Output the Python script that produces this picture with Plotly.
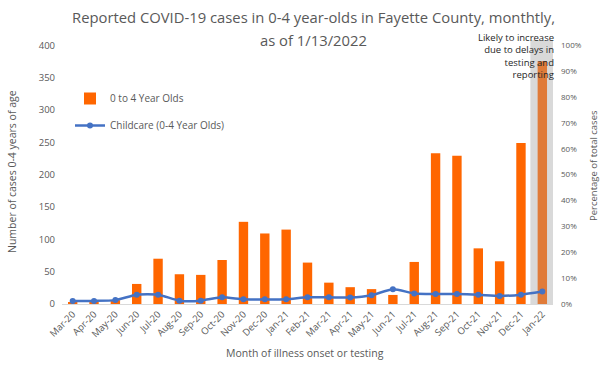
import plotly.graph_objects as go

months = ["Mar-20", "Apr-20", "May-20", "Jun-20", "Jul-20", "Aug-20", "Sep-20", "Oct-20",
          "Nov-20", "Dec-20", "Jan-21", "Feb-21", "Mar-21", "Apr-21", "May-21", "Jun-21",
          "Jul-21", "Aug-21", "Sep-21", "Oct-21", "Nov-21", "Dec-21", "Jan-22"]
cases_0_4 = [2, 2, 6, 31, 70, 46, 45, 68, 127, 109, 115, 64, 33, 26, 23, 14,
             65, 233, 229, 86, 66, 249, 375]
childcare_pct = [0.012, 0.012, 0.015, 0.036, 0.036, 0.013, 0.013, 0.026, 0.018, 0.018, 0.018,
                 0.026, 0.026, 0.025, 0.034, 0.057, 0.041, 0.039, 0.039, 0.036, 0.031, 0.036, 0.048]
incomplete_months = ["Jan-22"]
highlight_level = 408

FONT = "Open Sans, Noto Sans, sans-serif"
GREY = "#595959"

# plot area in pixels
L, R, T, B = 62, 553, 40, 304
PW, PH = R - L, B - T


def px(xp):
    return (xp - L) / PW


def py(yp):
    return (B - yp) / PH


bar_colors = ["#E07B39" if m in incomplete_months else "#FF6600" for m in months]

fig = go.Figure()
fig.add_trace(go.Bar(
    x=incomplete_months, y=[highlight_level] * len(incomplete_months),
    width=1.12, marker=dict(color="#D9D9D9", line=dict(width=0)),
    showlegend=False, hoverinfo="skip", yaxis="y"))
fig.add_trace(go.Bar(
    x=months, y=cases_0_4, name="0 to 4 Year Olds", width=0.44, legendgroup="a",
    marker=dict(color=bar_colors, line=dict(width=0)), yaxis="y"))
fig.add_trace(go.Scatter(
    x=months, y=childcare_pct, name="Childcare (0-4 Year Olds)", mode="lines+markers",
    legendgroup="b",
    line=dict(color="#4472C4", width=2.5, shape="spline", smoothing=0.6),
    marker=dict(color="#4472C4", size=6), yaxis="y2"))

fig.update_layout(
    width=605, height=368,
    margin=dict(l=L, r=605 - R, t=T, b=368 - B, autoexpand=False),
    paper_bgcolor="white", plot_bgcolor="white",
    barmode="overlay",
    font=dict(family=FONT, color=GREY, size=10),
    xaxis=dict(
        type="category", categoryorder="array", categoryarray=months, automargin=False,
        tickangle=-45, showgrid=False, showline=True, linecolor="#D9D9D9", linewidth=1,
        ticks="", tickfont=dict(size=9.5, color=GREY), range=[-0.5, len(months) - 0.5]),
    yaxis=dict(
        range=[0, highlight_level], tickvals=list(range(0, 401, 50)), showgrid=False,
        automargin=False, zeroline=False, showline=False, ticks="",
        tickfont=dict(size=9.5, color=GREY), ticklabelstandoff=6),
    yaxis2=dict(
        overlaying="y", side="right", range=[0, highlight_level / 400], automargin=False,
        tickvals=[i / 10 for i in range(11)], tickformat=".0%", showgrid=False,
        zeroline=False, showline=False, ticks="", tickfont=dict(size=8, color=GREY),
        ticklabelstandoff=7),
    legend=dict(x=px(70), y=py(84), xanchor="left", yanchor="top", bgcolor="rgba(0,0,0,0)",
                font=dict(size=10, color=GREY), traceorder="grouped", tracegroupgap=8,
                itemwidth=30),
    showlegend=True,
)

fig.add_annotation(text="Reported COVID-19 cases in 0-4 year-olds in Fayette County, monthtly,",
                   xref="paper", yref="paper", x=px(313), y=py(17), xanchor="center",
                   yanchor="middle", showarrow=False, font=dict(size=14.8, color=GREY))
fig.add_annotation(text="as of 1/13/2022",
                   xref="paper", yref="paper", x=px(313), y=py(40), xanchor="center",
                   yanchor="middle", showarrow=False, font=dict(size=14.8, color=GREY))
fig.add_annotation(text="Likely to increase<br>due to delays in<br>testing and<br>reporting",
                   xref="paper", yref="paper", x=px(556), y=py(29), xanchor="right", yanchor="top",
                   align="right", showarrow=False, font=dict(size=9.5, color="#262626"))
fig.add_annotation(text="Month of illness onset or testing", xref="paper", yref="paper",
                   x=px(305), y=py(353), xanchor="center", yanchor="middle",
                   showarrow=False, font=dict(size=10.5, color=GREY))
fig.add_annotation(text="Number of cases 0-4 years of age", xref="paper", yref="paper",
                   x=px(12), y=py(172), xanchor="center", yanchor="middle",
                   textangle=-90, showarrow=False, font=dict(size=10.5, color=GREY))
fig.add_annotation(text="Percentage of total cases", xref="paper", yref="paper",
                   x=px(593), y=py(166), xanchor="center", yanchor="middle",
                   textangle=-90, showarrow=False, font=dict(size=9.5, color=GREY))

fig.write_html("out.html", config={"displayModeBar": False},
               post_script="document.body.style.margin='0';document.body.style.overflow='hidden';")
